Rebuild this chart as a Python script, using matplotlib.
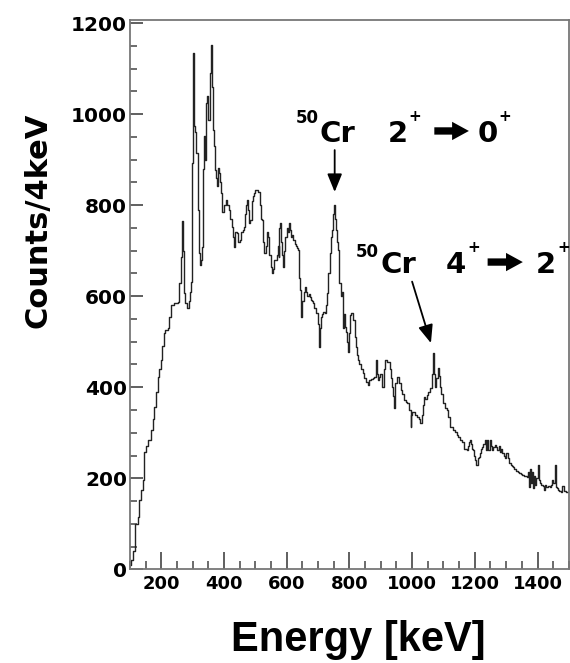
import matplotlib
matplotlib.use("Agg")
import matplotlib.pyplot as plt
from matplotlib.ticker import MultipleLocator

plt.rcParams['font.family'] = ['DejaVu Sans']
plt.rcParams['font.weight'] = 'bold'

# bin left edges (keV) and counts per 4 keV
energy = [100, 102, 110, 115, 117, 125, 130, 136, 141, 146, 152, 159, 167, 172, 178,
          183, 188, 194, 199, 203, 207, 213, 220, 225, 230, 240, 252, 257, 262, 266,
          269, 273, 277, 281, 287, 291, 294, 297, 299, 302, 304, 308, 312, 316, 319,
          323, 327, 331, 334, 337, 340, 342, 346, 350, 354, 358, 361, 363, 366, 369,
          372, 376, 379, 382, 384, 387, 390, 393, 395, 400, 405, 410, 416, 420, 424,
          428, 432, 436, 440, 445, 450, 455, 460, 463, 467, 470, 474, 478, 481, 484,
          488, 492, 495, 500, 505, 510, 514, 518, 521, 525, 529, 533, 537, 540, 545,
          549, 553, 557, 560, 563, 568, 571, 574, 577, 579, 582, 586, 589, 592, 596,
          600, 604, 608, 611, 615, 618, 621, 625, 630, 634, 637, 640, 642, 645, 647,
          650, 654, 658, 662, 666, 670, 674, 678, 681, 684, 688, 692, 695, 699, 702,
          705, 708, 712, 716, 721, 725, 729, 733, 737, 741, 744, 747, 750, 753, 756,
          758, 761, 763, 766, 768, 772, 775, 779, 782, 785, 789, 792, 795, 799, 802,
          805, 810, 813, 816, 819, 821, 824, 828, 832, 837, 842, 847, 852, 858, 864,
          870, 875, 880, 884, 887, 891, 895, 899, 905, 910, 915, 920, 926, 931, 934,
          937, 940, 943, 947, 953, 958, 963, 968, 974, 979, 984, 990, 995, 998, 1000,
          1005, 1010, 1016, 1021, 1026, 1030, 1034, 1037, 1041, 1047, 1052, 1058, 1062, 1066, 1069,
          1073, 1077, 1082, 1086, 1089, 1093, 1098, 1104, 1110, 1116, 1120, 1126, 1132, 1136, 1142,
          1147, 1152, 1158, 1164, 1169, 1174, 1178, 1181, 1184, 1188, 1191, 1195, 1199, 1202, 1205,
          1209, 1212, 1216, 1220, 1224, 1227, 1231, 1235, 1239, 1243, 1247, 1251, 1255, 1258, 1263,
          1268, 1272, 1276, 1280, 1284, 1288, 1292, 1296, 1300, 1305, 1310, 1314, 1318, 1321, 1326,
          1331, 1337, 1342, 1347, 1352, 1357, 1362, 1368, 1371, 1374, 1377, 1380, 1383, 1386, 1389,
          1392, 1396, 1400, 1404, 1408, 1412, 1416, 1420, 1424, 1428, 1432, 1436, 1440, 1444, 1447,
          1451, 1455, 1458, 1461, 1464, 1468, 1472, 1476, 1479, 1484, 1488, 1492, 1496]
counts = [10, 20, 40, 50, 100, 115, 152, 175, 196, 258, 270, 284, 306, 330, 357,
          390, 423, 440, 460, 490, 519, 525, 530, 555, 581, 585, 588, 629, 687, 765,
          700, 607, 585, 574, 590, 610, 632, 760, 893, 1134, 973, 960, 915, 790, 695,
          669, 680, 709, 880, 951, 900, 1025, 1040, 988, 1090, 1152, 1075, 1060, 965, 930,
          877, 860, 841, 882, 870, 850, 827, 800, 786, 800, 812, 800, 790, 770, 753,
          730, 709, 740, 739, 720, 724, 740, 745, 753, 780, 800, 812, 790, 760, 768,
          810, 820, 827, 834, 834, 830, 800, 770, 768, 720, 695, 710, 740, 731, 690,
          665, 650, 660, 680, 680, 690, 710, 687, 750, 760, 720, 690, 665, 700, 730,
          749, 740, 760, 746, 730, 735, 724, 715, 710, 705, 702, 640, 614, 590, 555,
          590, 610, 621, 610, 600, 605, 599, 592, 590, 585, 575, 570, 563, 540, 489,
          530, 555, 560, 565, 563, 580, 607, 650, 695, 730, 746, 780, 801, 770, 760,
          746, 720, 702, 650, 629, 600, 610, 530, 560, 533, 521, 500, 477, 520, 559,
          563, 555, 548, 548, 510, 489, 470, 460, 450, 440, 431, 420, 412, 405, 416,
          418, 420, 423, 460, 430, 415, 423, 430, 401, 440, 460, 455, 456, 440, 420,
          400, 380, 354, 410, 423, 410, 394, 385, 372, 368, 365, 350, 313, 340, 346,
          345, 340, 335, 330, 321, 340, 360, 379, 375, 383, 390, 398, 430, 475, 430,
          401, 420, 442, 425, 401, 385, 365, 355, 350, 335, 313, 313, 306, 302, 295,
          291, 284, 280, 265, 265, 262, 270, 280, 284, 275, 265, 262, 250, 240, 229,
          245, 247, 255, 265, 269, 275, 284, 262, 284, 262, 284, 270, 262, 269, 273,
          268, 262, 270, 258, 265, 255, 250, 245, 255, 245, 233, 230, 226, 225, 220,
          217, 214, 211, 209, 207, 205, 204, 203, 214, 180, 220, 190, 214, 178, 205,
          185, 200, 229, 196, 190, 185, 183, 175, 185, 180, 182, 182, 180, 186, 196,
          190, 229, 180, 178, 175, 171, 172, 170, 182, 171, 172, 170, 170]

yticks = [0, 200, 400, 600, 800, 1000, 1200]
xticks = [200, 400, 600, 800, 1000, 1200, 1400]

fig = plt.figure(figsize=(5.7, 6.63), dpi=100)
ax = fig.add_axes([0.228, 0.1413, 0.770, 0.8287])

ax.step(energy, counts, where='post', color='#222222', lw=1.0)

ax.set_xlim(100, 1500)
ax.set_ylim(0, 1207)
ax.set_xticks(xticks)
ax.set_yticks(yticks)
ax.xaxis.set_minor_locator(MultipleLocator(50))
ax.yaxis.set_minor_locator(MultipleLocator(50))
ax.tick_params(axis='x', which='major', direction='in', length=12, width=1.2,
               color='#444444', labelsize=13, pad=4)
ax.tick_params(axis='x', which='minor', direction='in', length=6, width=1.1, color='#444444')
ax.tick_params(axis='y', which='major', direction='in', length=9.5, width=1.2,
               color='#444444', labelsize=14.5, pad=2)
ax.tick_params(axis='y', which='minor', direction='in', length=5, width=1.1, color='#444444')
for lab in ax.get_xticklabels() + ax.get_yticklabels():
    lab.set_fontweight('bold')
for sp in ax.spines.values():
    sp.set_color('#777777')
    sp.set_linewidth(1.3)

fig.text(38 / 570, 1 - 220 / 663, 'Counts/4keV', rotation=90, fontsize=22,
         fontweight='bold', ha='center', va='center')
fig.text(358 / 570, 1 - 640 / 663, 'Energy [keV]', fontsize=30,
         family=['Liberation Sans'], fontweight='bold', ha='center', va='center')

# labels for the two transitions
big = 21
sup = 11
arrow_style = 'simple,head_length=0.55,head_width=0.6,tail_width=0.24'
ax.text(630, 981, '50', fontsize=12, fontweight='bold')
ax.text(706, 939, 'Cr', fontsize=big, fontweight='bold')
ax.text(921, 939, '2', fontsize=big, fontweight='bold')
ax.text(988, 985, '+', fontsize=sup, fontweight='bold')
ax.annotate('', xy=(1190, 963), xytext=(1062, 963),
            arrowprops=dict(arrowstyle=arrow_style, mutation_scale=22, color='black', lw=0))
ax.text(1208, 939, '0', fontsize=big, fontweight='bold')
ax.text(1274, 985, '+', fontsize=sup, fontweight='bold')

ax.text(820, 686, '50', fontsize=12, fontweight='bold')
ax.text(899, 651, 'Cr', fontsize=big, fontweight='bold')
ax.text(1108, 651, '4', fontsize=big, fontweight='bold')
ax.text(1175, 697, '+', fontsize=sup, fontweight='bold')
ax.annotate('', xy=(1362, 675), xytext=(1232, 675),
            arrowprops=dict(arrowstyle=arrow_style, mutation_scale=22, color='black', lw=0))
ax.text(1395, 651, '2', fontsize=big, fontweight='bold', clip_on=False)
ax.text(1462, 697, '+', fontsize=sup, fontweight='bold', clip_on=False)

# pointer arrows to the peaks
ax.annotate('', xy=(753, 829), xytext=(753, 921),
            arrowprops=dict(arrowstyle='-|>,head_length=1.1,head_width=0.45',
                            color='black', lw=1.3, shrinkA=0, shrinkB=0))
ax.annotate('', xy=(1060, 497), xytext=(1000, 632),
            arrowprops=dict(arrowstyle='-|>,head_length=1.1,head_width=0.45',
                            color='black', lw=1.3, shrinkA=0, shrinkB=0))

fig.savefig('out.png', dpi=100)
